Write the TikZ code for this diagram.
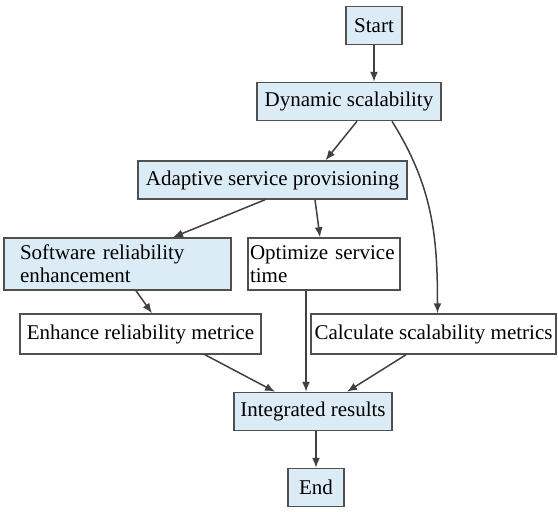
\documentclass[tikz,border=0pt]{standalone}
\usepackage{fontspec}
\setmainfont{Liberation Serif}
\usetikzlibrary{arrows.meta}
\definecolor{boxblue}{HTML}{DCECF7}
\definecolor{boxline}{HTML}{505050}
\definecolor{arrowgray}{HTML}{404040}

\begin{document}
\begin{tikzpicture}[
        x=1pt, y=-1pt,
        every node/.style={font=\fontsize{21}{23}\selectfont},
        bluebox/.style={rectangle, draw=boxline, line width=1.5pt, fill=boxblue, minimum height=38pt, inner xsep=4pt},
        plainbox/.style={bluebox, fill=white},
        arrow/.style={-{Latex[length=10pt,width=8pt]}, line width=1.5pt, draw=arrowgray}
        ]
        \useasboundingbox (0,0) rectangle (558,512);

        % Boxes placed at their centres
        \node[bluebox, minimum width=56pt] (start) at (374, 25.5) {Start};
        \node[bluebox, minimum width=184pt] (dyn) at (349, 101.5) {Dynamic scalability};
        \node[bluebox, minimum width=269pt] (adp) at (272.5, 180) {Adaptive service provisioning};
        \node[bluebox, text width=195pt, inner xsep=16pt, minimum height=52pt, align=left] (soft) at (117.5, 264) {Software reliability\\enhancement};
        \node[plainbox, text width=148pt, inner xsep=2pt, minimum height=52pt, align=left] (opt) at (324, 264) {Optimize service\\time};
        \node[plainbox, minimum width=241pt, minimum height=40pt] (enh) at (140.5, 334) {Enhance reliability metrice};
        \node[plainbox, minimum width=245pt, minimum height=40pt, inner xsep=2pt] (calc) at (433.5, 334) {Calculate scalability metrics};
        \node[bluebox, minimum width=158pt] (intg) at (313, 411.5) {Integrated results};
        \node[bluebox, minimum width=56pt] (end) at (316, 487.5) {End};

        % Connections
        \draw[arrow] (start) -- ([xshift=25pt]dyn.north);
        \draw[arrow] ([xshift=8pt]dyn.south) -- ([xshift=53pt]adp.north);
        \draw[arrow] ([xshift=43pt]dyn.south) to[out=-58, in=90] ([xshift=4pt]calc.north);
        \draw[arrow] ([xshift=-7.5pt]adp.south) -- ([xshift=55.5pt]soft.north);
        \draw[arrow] ([xshift=42.5pt]adp.south) -- ([xshift=-4pt]opt.north);
        \draw[arrow] ([xshift=18.5pt]soft.south) -- ([xshift=11.5pt]enh.north);
        \draw[arrow] ([xshift=-18pt]opt.south) -- ([xshift=-7pt]intg.north);
        \draw[arrow] ([xshift=64.5pt]enh.south) -- ([xshift=-38pt]intg.north);
        \draw[arrow] ([xshift=-27.5pt]calc.south) -- ([xshift=34pt]intg.north);
        \draw[arrow] ([xshift=3pt]intg.south) -- (end);

    \end{tikzpicture}
\end{document}
